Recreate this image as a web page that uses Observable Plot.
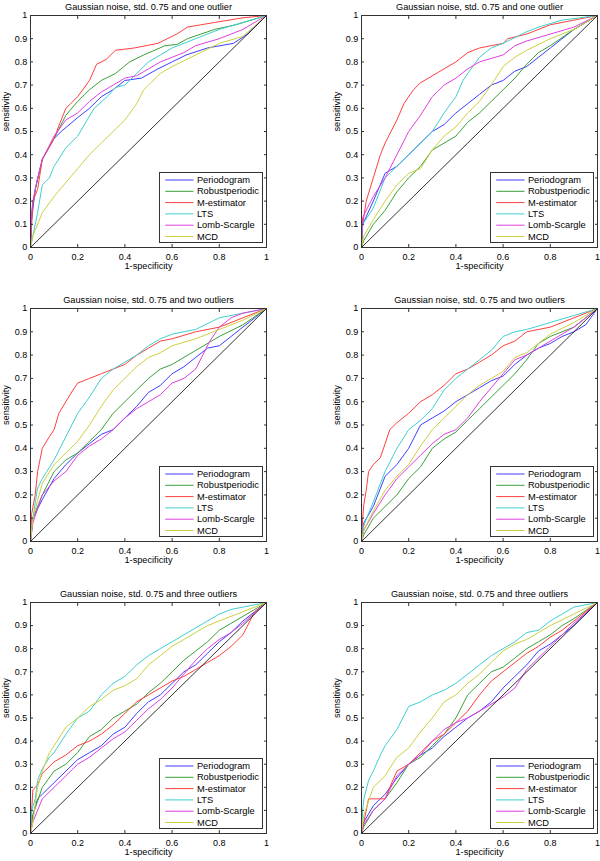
<!DOCTYPE html>
<html><head><meta charset="utf-8">
<script src="https://cdn.jsdelivr.net/npm/d3@7"></script>
<script src="https://cdn.jsdelivr.net/npm/@observablehq/plot@0.6"></script>
<style>
body{margin:0;background:#fff;}
#c{position:relative;width:600px;height:861px;overflow:hidden;}
#c svg{position:absolute;overflow:visible;}
</style>
</head><body><div id="c"></div>
<script>
const methods = ["Periodogram","Robustperiodic","M-estimator","LTS","Lomb-Scargle","MCD"];
const colors = ["#3f3fff","#3aa03a","#ff3f3f","#3fcfcf","#e03fe0","#cfcf3f"];
const titles = [
  "Gaussian noise, std. 0.75 and one outlier",
  "Gaussian noise, std. 0.75 and one outlier",
  "Gaussian noise, std. 0.75 and two outliers",
  "Gaussian noise, std. 0.75 and two outliers",
  "Gaussian noise, std. 0.75 and three outliers",
  "Gaussian noise, std. 0.75 and three outliers"
];
const xTicks = [0,0.2,0.4,0.6,0.8,1];
const yTicks = [0,0.1,0.2,0.3,0.4,0.5,0.6,0.7,0.8,0.9,1];
const xLabel = "1-specificity";
const yLabel = "sensitivity";
const diagonal = [[0,0],[1,1]];

// Panel 1 (top-left)
const p1Periodogram = [[0,0],[0.005,0.12],[0.02,0.25],[0.05,0.38],[0.1,0.47],[0.13,0.5],[0.2,0.56],[0.25,0.6],[0.3,0.65],[0.35,0.68],[0.4,0.72],[0.47,0.73],[0.54,0.77],[0.6,0.8],[0.66,0.83],[0.75,0.86],[0.86,0.88],[0.92,0.92],[1,1]];
const p1Robust = [[0,0],[0.005,0.15],[0.02,0.25],[0.05,0.38],[0.1,0.47],[0.15,0.57],[0.2,0.63],[0.25,0.68],[0.3,0.72],[0.36,0.75],[0.42,0.8],[0.48,0.83],[0.57,0.87],[0.62,0.875],[0.665,0.9],[0.78,0.94],[0.87,0.96],[1,1]];
const p1MEst = [[0,0],[0.005,0.1],[0.01,0.2],[0.03,0.25],[0.05,0.38],[0.1,0.47],[0.13,0.55],[0.15,0.6],[0.2,0.65],[0.25,0.72],[0.28,0.79],[0.32,0.81],[0.36,0.85],[0.44,0.86],[0.54,0.88],[0.62,0.92],[0.665,0.95],[0.78,0.97],[0.9,0.99],[1,1]];
const p1LTS = [[0,0],[0.01,0.05],[0.03,0.15],[0.05,0.27],[0.08,0.3],[0.1,0.35],[0.15,0.43],[0.2,0.48],[0.24,0.55],[0.27,0.6],[0.325,0.65],[0.36,0.69],[0.4,0.7],[0.45,0.75],[0.5,0.8],[0.6,0.86],[0.7,0.9],[0.8,0.94],[0.9,0.97],[1,1]];
const p1Lomb = [[0,0],[0.005,0.15],[0.01,0.2],[0.03,0.3],[0.05,0.38],[0.1,0.48],[0.15,0.55],[0.2,0.58],[0.25,0.63],[0.3,0.67],[0.35,0.7],[0.4,0.73],[0.45,0.74],[0.5,0.77],[0.55,0.8],[0.6,0.82],[0.65,0.84],[0.7,0.87],[0.8,0.9],[0.9,0.94],[1,1]];
const p1MCD = [[0,0],[0.01,0.05],[0.05,0.15],[0.1,0.22],[0.15,0.28],[0.2,0.34],[0.25,0.4],[0.3,0.45],[0.35,0.5],[0.4,0.55],[0.45,0.62],[0.48,0.68],[0.5,0.7],[0.55,0.75],[0.6,0.78],[0.7,0.83],[0.8,0.88],[0.9,0.91],[1,1]];

// Panel 2 (top-right)
const p2Periodogram = [[0,0],[0.005,0.1],[0.05,0.2],[0.1,0.32],[0.15,0.35],[0.2,0.4],[0.25,0.45],[0.3,0.5],[0.35,0.53],[0.4,0.58],[0.45,0.62],[0.5,0.66],[0.55,0.7],[0.6,0.72],[0.65,0.76],[0.7,0.78],[0.75,0.82],[0.8,0.86],[0.85,0.9],[0.9,0.94],[0.95,0.97],[1,1]];
const p2Robust = [[0,0],[0.01,0.03],[0.05,0.1],[0.1,0.16],[0.15,0.24],[0.2,0.3],[0.25,0.35],[0.3,0.42],[0.35,0.45],[0.4,0.48],[0.45,0.54],[0.5,0.58],[0.55,0.63],[0.6,0.68],[0.65,0.73],[0.7,0.79],[0.75,0.84],[0.8,0.87],[0.9,0.94],[1,1]];
const p2MEst = [[0,0],[0.005,0.1],[0.02,0.2],[0.05,0.3],[0.08,0.4],[0.1,0.45],[0.15,0.55],[0.18,0.62],[0.22,0.68],[0.25,0.71],[0.3,0.74],[0.35,0.77],[0.4,0.8],[0.45,0.84],[0.5,0.86],[0.6,0.88],[0.62,0.9],[0.7,0.92],[0.8,0.96],[0.9,0.98],[1,1]];
const p2LTS = [[0,0],[0.005,0.1],[0.05,0.17],[0.1,0.3],[0.15,0.35],[0.2,0.4],[0.25,0.45],[0.3,0.5],[0.35,0.58],[0.4,0.65],[0.43,0.72],[0.45,0.75],[0.5,0.82],[0.55,0.86],[0.6,0.88],[0.7,0.93],[0.75,0.95],[0.85,0.98],[1,1]];
const p2Lomb = [[0,0],[0.005,0.13],[0.05,0.22],[0.1,0.3],[0.15,0.4],[0.2,0.5],[0.25,0.57],[0.3,0.65],[0.35,0.7],[0.4,0.73],[0.45,0.77],[0.5,0.8],[0.6,0.83],[0.65,0.87],[0.7,0.89],[0.8,0.92],[0.9,0.95],[1,1]];
const p2MCD = [[0,0],[0.01,0.05],[0.05,0.12],[0.1,0.2],[0.15,0.27],[0.2,0.32],[0.25,0.34],[0.3,0.42],[0.35,0.48],[0.4,0.52],[0.45,0.58],[0.5,0.63],[0.55,0.7],[0.6,0.78],[0.65,0.82],[0.7,0.85],[0.8,0.9],[0.9,0.94],[1,1]];

// Panel 3 (middle-left)
const p3Periodogram = [[0,0],[0.01,0.1],[0.05,0.18],[0.1,0.27],[0.15,0.33],[0.2,0.38],[0.25,0.42],[0.3,0.46],[0.35,0.48],[0.4,0.53],[0.45,0.58],[0.5,0.64],[0.55,0.67],[0.6,0.72],[0.65,0.75],[0.7,0.79],[0.75,0.83],[0.8,0.84],[0.85,0.88],[0.9,0.92],[1,1]];
const p3Robust = [[0,0],[0.01,0.1],[0.05,0.2],[0.1,0.3],[0.15,0.35],[0.2,0.38],[0.25,0.43],[0.3,0.48],[0.35,0.55],[0.4,0.6],[0.45,0.65],[0.5,0.7],[0.55,0.74],[0.6,0.76],[0.7,0.82],[0.8,0.88],[0.9,0.93],[1,1]];
const p3MEst = [[0,0],[0.005,0.12],[0.02,0.2],[0.03,0.3],[0.05,0.4],[0.08,0.45],[0.1,0.48],[0.12,0.55],[0.15,0.6],[0.18,0.65],[0.2,0.68],[0.25,0.7],[0.3,0.72],[0.35,0.74],[0.4,0.76],[0.45,0.8],[0.5,0.83],[0.55,0.86],[0.6,0.87],[0.7,0.9],[0.8,0.92],[0.9,0.96],[1,1]];
const p3LTS = [[0,0],[0.01,0.1],[0.03,0.23],[0.05,0.27],[0.1,0.35],[0.15,0.45],[0.2,0.55],[0.25,0.62],[0.3,0.7],[0.35,0.74],[0.4,0.77],[0.45,0.8],[0.5,0.84],[0.55,0.87],[0.6,0.89],[0.7,0.91],[0.8,0.96],[0.9,0.98],[1,1]];
const p3Lomb = [[0,0],[0.01,0.08],[0.05,0.2],[0.1,0.26],[0.15,0.3],[0.2,0.37],[0.25,0.41],[0.3,0.44],[0.35,0.48],[0.4,0.53],[0.45,0.57],[0.5,0.6],[0.55,0.63],[0.6,0.68],[0.65,0.7],[0.7,0.74],[0.73,0.8],[0.76,0.86],[0.8,0.92],[0.85,0.96],[0.9,0.98],[1,1]];
const p3MCD = [[0,0],[0.01,0.1],[0.05,0.25],[0.1,0.33],[0.15,0.38],[0.2,0.43],[0.25,0.5],[0.3,0.58],[0.35,0.65],[0.4,0.7],[0.45,0.75],[0.5,0.79],[0.55,0.81],[0.6,0.84],[0.7,0.87],[0.8,0.91],[0.9,0.95],[1,1]];

// Panel 4 (middle-right)
const p4Periodogram = [[0,0],[0.01,0.08],[0.05,0.15],[0.1,0.28],[0.15,0.33],[0.2,0.4],[0.25,0.5],[0.3,0.53],[0.35,0.56],[0.4,0.6],[0.45,0.63],[0.5,0.66],[0.55,0.69],[0.6,0.71],[0.65,0.76],[0.7,0.8],[0.75,0.83],[0.8,0.85],[0.85,0.88],[0.9,0.9],[0.95,0.93],[1,1]];
const p4Robust = [[0,0],[0.01,0.03],[0.05,0.1],[0.1,0.15],[0.15,0.2],[0.2,0.27],[0.25,0.32],[0.3,0.4],[0.35,0.44],[0.4,0.47],[0.45,0.52],[0.5,0.57],[0.55,0.62],[0.6,0.67],[0.65,0.72],[0.7,0.78],[0.75,0.85],[0.8,0.88],[0.85,0.9],[0.9,0.92],[1,1]];
const p4MEst = [[0,0],[0.005,0.1],[0.01,0.16],[0.02,0.22],[0.03,0.3],[0.05,0.33],[0.08,0.36],[0.1,0.42],[0.12,0.48],[0.15,0.51],[0.2,0.55],[0.25,0.6],[0.3,0.63],[0.35,0.67],[0.4,0.72],[0.45,0.74],[0.5,0.77],[0.55,0.8],[0.6,0.84],[0.65,0.86],[0.7,0.9],[0.8,0.92],[0.9,0.96],[1,1]];
const p4LTS = [[0,0],[0.01,0.07],[0.05,0.17],[0.1,0.3],[0.15,0.4],[0.2,0.48],[0.25,0.52],[0.3,0.57],[0.35,0.65],[0.4,0.7],[0.45,0.74],[0.5,0.78],[0.55,0.82],[0.6,0.88],[0.65,0.9],[0.7,0.91],[0.8,0.94],[0.9,0.97],[1,1]];
const p4Lomb = [[0,0],[0.01,0.05],[0.05,0.12],[0.1,0.2],[0.15,0.27],[0.2,0.32],[0.25,0.37],[0.3,0.42],[0.35,0.46],[0.4,0.48],[0.45,0.53],[0.5,0.6],[0.55,0.66],[0.6,0.72],[0.65,0.78],[0.7,0.8],[0.75,0.83],[0.8,0.86],[0.9,0.92],[1,1]];
const p4MCD = [[0,0],[0.01,0.05],[0.05,0.13],[0.1,0.22],[0.15,0.28],[0.2,0.33],[0.25,0.41],[0.3,0.48],[0.35,0.53],[0.4,0.58],[0.45,0.63],[0.5,0.67],[0.55,0.7],[0.6,0.73],[0.65,0.79],[0.7,0.81],[0.75,0.85],[0.8,0.89],[0.9,0.94],[1,1]];

// Panel 5 (bottom-left)
const p5Periodogram = [[0,0],[0.01,0.08],[0.03,0.15],[0.05,0.17],[0.1,0.22],[0.15,0.27],[0.2,0.32],[0.25,0.35],[0.3,0.38],[0.35,0.43],[0.4,0.46],[0.45,0.52],[0.5,0.57],[0.55,0.6],[0.6,0.65],[0.65,0.7],[0.7,0.73],[0.75,0.78],[0.8,0.83],[0.85,0.87],[0.9,0.92],[0.95,0.96],[1,1]];
const p5Robust = [[0,0],[0.01,0.08],[0.05,0.2],[0.1,0.27],[0.15,0.3],[0.2,0.35],[0.25,0.42],[0.3,0.45],[0.35,0.5],[0.4,0.53],[0.45,0.56],[0.5,0.61],[0.55,0.65],[0.6,0.7],[0.65,0.75],[0.7,0.79],[0.75,0.83],[0.8,0.88],[0.85,0.91],[0.9,0.94],[0.95,0.97],[1,1]];
const p5MEst = [[0,0],[0.005,0.1],[0.01,0.19],[0.03,0.21],[0.05,0.26],[0.1,0.31],[0.15,0.34],[0.2,0.38],[0.25,0.4],[0.3,0.43],[0.35,0.47],[0.4,0.52],[0.45,0.57],[0.5,0.6],[0.55,0.63],[0.6,0.66],[0.65,0.68],[0.7,0.71],[0.75,0.74],[0.8,0.77],[0.85,0.81],[0.9,0.86],[0.93,0.92],[0.95,0.96],[1,1]];
const p5LTS = [[0,0],[0.005,0.1],[0.02,0.15],[0.03,0.23],[0.05,0.28],[0.08,0.33],[0.1,0.35],[0.15,0.43],[0.2,0.5],[0.25,0.53],[0.3,0.6],[0.35,0.65],[0.4,0.68],[0.45,0.73],[0.5,0.77],[0.55,0.8],[0.6,0.83],[0.65,0.86],[0.7,0.89],[0.75,0.92],[0.8,0.95],[0.85,0.97],[0.9,0.98],[1,1]];
const p5Lomb = [[0,0],[0.01,0.05],[0.05,0.15],[0.1,0.2],[0.15,0.25],[0.2,0.3],[0.25,0.33],[0.3,0.37],[0.35,0.41],[0.4,0.44],[0.45,0.49],[0.5,0.54],[0.55,0.58],[0.6,0.63],[0.65,0.69],[0.7,0.75],[0.75,0.8],[0.8,0.84],[0.85,0.87],[0.9,0.91],[1,1]];
const p5MCD = [[0,0],[0.01,0.05],[0.03,0.2],[0.05,0.27],[0.08,0.35],[0.1,0.38],[0.15,0.46],[0.2,0.5],[0.25,0.55],[0.3,0.58],[0.35,0.62],[0.4,0.64],[0.45,0.67],[0.5,0.73],[0.55,0.77],[0.6,0.81],[0.65,0.84],[0.7,0.87],[0.75,0.9],[0.8,0.92],[0.9,0.96],[1,1]];

// Panel 6 (bottom-right)
const p6Periodogram = [[0,0],[0.01,0.05],[0.05,0.12],[0.1,0.17],[0.15,0.24],[0.2,0.3],[0.25,0.34],[0.3,0.37],[0.35,0.42],[0.4,0.46],[0.45,0.5],[0.5,0.53],[0.55,0.57],[0.6,0.63],[0.65,0.68],[0.7,0.73],[0.75,0.79],[0.8,0.82],[0.85,0.86],[0.9,0.9],[1,1]];
const p6Robust = [[0,0],[0.01,0.03],[0.05,0.1],[0.1,0.15],[0.15,0.22],[0.2,0.3],[0.25,0.33],[0.3,0.38],[0.35,0.43],[0.4,0.5],[0.45,0.6],[0.5,0.65],[0.55,0.7],[0.6,0.72],[0.65,0.76],[0.7,0.8],[0.75,0.83],[0.8,0.86],[0.85,0.9],[0.9,0.93],[1,1]];
const p6MEst = [[0,0],[0.01,0.05],[0.03,0.15],[0.1,0.15],[0.12,0.2],[0.15,0.27],[0.2,0.3],[0.25,0.35],[0.3,0.4],[0.35,0.43],[0.4,0.48],[0.45,0.53],[0.5,0.6],[0.55,0.66],[0.6,0.7],[0.65,0.74],[0.7,0.78],[0.75,0.81],[0.8,0.85],[0.85,0.88],[0.9,0.92],[1,1]];
const p6LTS = [[0,0],[0.005,0.1],[0.01,0.15],[0.03,0.23],[0.05,0.27],[0.08,0.34],[0.1,0.38],[0.15,0.45],[0.2,0.55],[0.25,0.57],[0.3,0.6],[0.35,0.62],[0.4,0.65],[0.45,0.69],[0.5,0.73],[0.55,0.77],[0.6,0.8],[0.65,0.83],[0.7,0.87],[0.75,0.88],[0.8,0.92],[0.85,0.95],[0.9,0.98],[1,1]];
const p6Lomb = [[0,0],[0.01,0.04],[0.05,0.1],[0.1,0.15],[0.15,0.25],[0.2,0.3],[0.25,0.34],[0.3,0.4],[0.35,0.45],[0.4,0.48],[0.45,0.5],[0.5,0.53],[0.55,0.56],[0.6,0.59],[0.65,0.63],[0.7,0.71],[0.8,0.81],[0.9,0.91],[1,1]];
const p6MCD = [[0,0],[0.01,0.08],[0.05,0.2],[0.1,0.25],[0.15,0.33],[0.2,0.37],[0.25,0.44],[0.3,0.5],[0.35,0.57],[0.4,0.6],[0.45,0.65],[0.5,0.69],[0.55,0.74],[0.6,0.79],[0.65,0.82],[0.7,0.84],[0.75,0.87],[0.8,0.9],[0.9,0.95],[1,1]];

const panels = [
  [p1Periodogram,p1Robust,p1MEst,p1LTS,p1Lomb,p1MCD],
  [p2Periodogram,p2Robust,p2MEst,p2LTS,p2Lomb,p2MCD],
  [p3Periodogram,p3Robust,p3MEst,p3LTS,p3Lomb,p3MCD],
  [p4Periodogram,p4Robust,p4MEst,p4LTS,p4Lomb,p4MCD],
  [p5Periodogram,p5Robust,p5MEst,p5LTS,p5Lomb,p5MCD],
  [p6Periodogram,p6Robust,p6MEst,p6LTS,p6Lomb,p6MCD]
];

const FONT = "'Liberation Sans', Arial, Helvetica, sans-serif";
const fmt = d => d === 0 ? "0" : d === 1 ? "1" : d.toFixed(1);
const container = document.getElementById("c");
const W = 300, H = 287;

panels.forEach((curves, i) => {
  const col = i % 2, row = Math.floor(i / 2);
  const ml = col ? 61 : 30, mr = col ? 3 : 34;
  const mt = [15, 21, 28][row], mb = [40, 33, 28][row];
  const svg = Plot.plot({
    width: W, height: H,
    marginLeft: ml, marginRight: mr, marginTop: mt, marginBottom: mb,
    x: {domain: [0, 1]},
    y: {domain: [0, 1]},
    style: {fontFamily: FONT, fontSize: "9px", color: "#000", background: "transparent", overflow: "visible"},
    marks: [
      ...curves.map((c, k) => Plot.line(c, {x: d => d[0], y: d => d[1], stroke: colors[k], strokeWidth: 1})),
      Plot.line(diagonal, {x: d => d[0], y: d => d[1], stroke: "#000", strokeWidth: 0.8}),
      Plot.frame({stroke: "#333", strokeWidth: 1}),
      Plot.axisX({anchor: "bottom", ticks: xTicks, tickSize: -3, tickPadding: 9, tickFormat: fmt, label: null, stroke: "#333", fontSize: 9}),
      Plot.axisX({anchor: "top", ticks: xTicks, tickSize: -3, tickFormat: () => "", label: null, stroke: "#333"}),
      Plot.axisY({anchor: "left", ticks: yTicks, tickSize: -3, tickPadding: 6.3, tickFormat: fmt, label: null, stroke: "#333", fontSize: 9}),
      Plot.axisY({anchor: "right", ticks: yTicks, tickSize: -3, tickFormat: () => "", label: null, stroke: "#333"}),
      Plot.text([titles[i]], {text: d => d, frameAnchor: "top", dy: -6, lineAnchor: "bottom", fontSize: 9.2}),
      Plot.text([xLabel], {text: d => d, frameAnchor: "bottom", dy: 21.5, lineAnchor: "bottom", fontSize: 9.2}),
      Plot.text([yLabel], {text: d => d, frameAnchor: "left", dx: -24, rotate: -90, lineAnchor: "middle", fontSize: 9.2})
    ]
  });
  svg.style.left = (col * 300) + "px";
  svg.style.top = (row * 287) + "px";
  // legend box
  const right = W - mr, bottom = H - mb;
  const bw = 103, bh = 70;
  const x0 = right - 3.5 - bw, y0 = bottom - 4.5 - bh;
  const g = d3.select(svg).append("g")
    .attr("font-family", FONT).attr("font-size", 9.3).attr("text-anchor", "start");
  g.append("rect").attr("x", x0).attr("y", y0).attr("width", bw).attr("height", bh)
    .attr("fill", "#fff").attr("stroke", "#333").attr("stroke-width", 1);
  methods.forEach((m, k) => {
    const yy = y0 + 7.5 + k * 11.3;
    g.append("line").attr("x1", x0 + 5.7).attr("x2", x0 + 34).attr("y1", yy).attr("y2", yy)
      .attr("stroke", colors[k]).attr("stroke-width", 1);
    g.append("text").attr("x", x0 + 37.4).attr("y", yy).attr("dy", "0.34em")
      .attr("text-anchor", "start").attr("fill", "#000").text(m);
  });
  container.appendChild(svg);
});
</script>
</body></html>
